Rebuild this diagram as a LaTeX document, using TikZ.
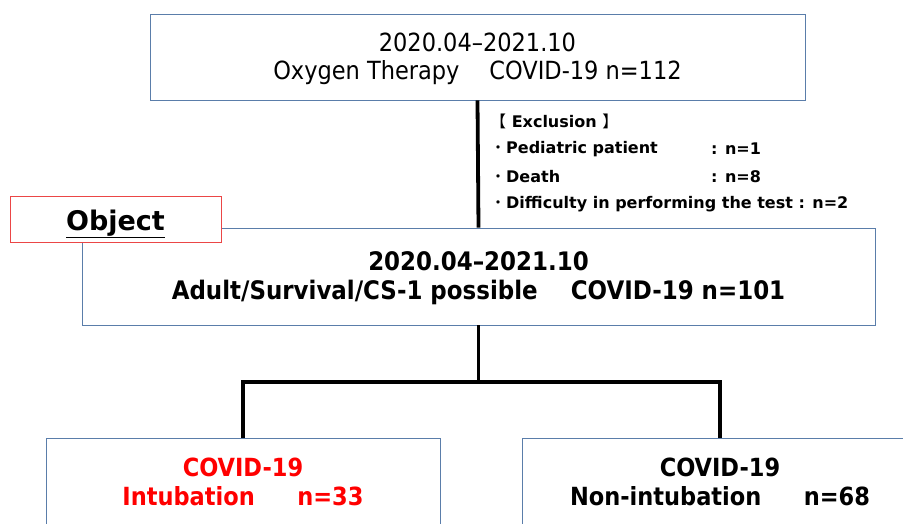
\documentclass[tikz,border=0pt]{standalone}
\usepackage{fontspec}
\setmainfont{DejaVu Sans Condensed}
\newfontfamily\verd{DejaVu Sans}
\newfontfamily\cjk{Noto Sans CJK JP}
\definecolor{boxblue}{RGB}{90,125,170}
\definecolor{objred}{RGB}{235,70,70}
\tikzset{
  box/.style={draw=boxblue, line width=0.9pt, fill=white, inner sep=0pt, align=center},
  conn/.style={line width=3.8pt, black},
  excl/.style={anchor=west, inner sep=0pt, font=\verd\bfseries\fontsize{16}{18}\selectfont}
}
\begin{document}
\begin{tikzpicture}[x=1pt,y=-1pt]
\useasboundingbox (0,0) rectangle (903,523);
\clip (0,0) rectangle (903,523);
\node[box, minimum width=655pt, minimum height=86pt, font=\fontsize{25}{28}\selectfont] (top) at (477.5,57)
  {\rule{0pt}{22pt}2020.04–2021.10\\Oxygen Therapy\hspace{1.2em}COVID-19 n=112};
\node[box, minimum width=793pt, minimum height=97pt, font=\bfseries\fontsize{25.5}{29}\selectfont] (mid) at (478.5,276.5)
  {\rule{0pt}{23pt}2020.04–2021.10\\Adult/Survival/CS-1 possible\hspace{1.3em}COVID-19 n=101};
\node[box, draw=objred, minimum width=211pt, minimum height=46pt, text height=26pt, text depth=4pt, font=\verd\bfseries\fontsize{27}{30}\selectfont] (obj) at (115.5,219)
  {\underline{Object}};
\node[box, minimum width=394pt, minimum height=88pt, text=red, font=\bfseries\fontsize{25}{29}\selectfont] (left) at (243,482)
  {COVID-19\\Intubation\hspace{1.7em}n=33};
\node[box, minimum width=396pt, minimum height=88pt, font=\bfseries\fontsize{25}{29}\selectfont] (right) at (720,482)
  {COVID-19\\Non-intubation\hspace{1.7em}n=68};
\draw[conn] (top.south) -- (mid.north);
\coordinate (split) at (478.5,382);
\coordinate (sl) at (243,382);
\coordinate (sr) at (720,382);
\draw[conn] (mid.south) -- (split);
\draw[conn, line cap=rect] (sl) -- (sr);
\draw[conn] (sl) -- (left.north);
\draw[conn] (sr) -- (right.north);
\node[excl] (e0) at (490,121) {{\cjk\mdseries【} Exclusion {\cjk\mdseries】}};
\node[excl] (e1) at (490,149) {{\cjk\mdseries・}Pediatric patient};
\node[excl] (e2) at (490,177) {{\cjk\mdseries・}Death};
\node[excl] (e3) at (490,204) {{\cjk\mdseries・}Difficulty in performing the test : n=2};
\node[excl] (c1) at (711,149) {: n=1};
\node[excl] (c2) at (711,177) {: n=8};
\end{tikzpicture}
\end{document}
